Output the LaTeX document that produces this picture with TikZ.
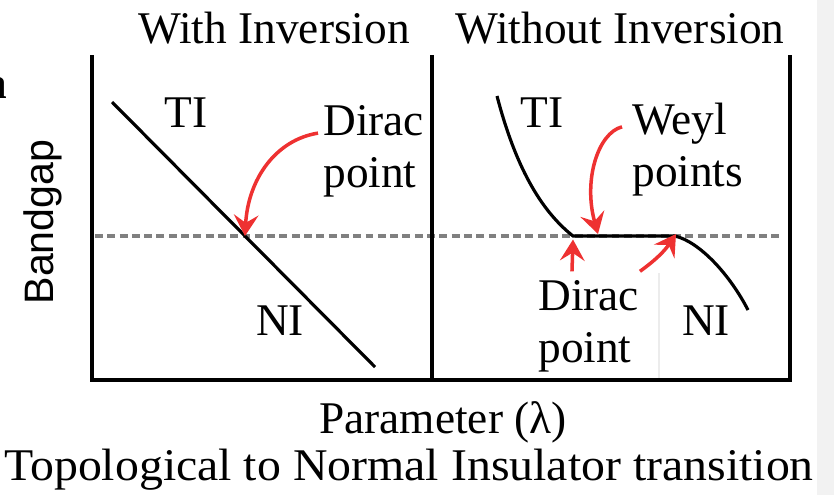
\documentclass[tikz,border=0pt]{standalone}
\usepackage{fontspec}
\setmainfont{Liberation Serif}
\setsansfont{Liberation Sans}
\usetikzlibrary{arrows.meta,positioning,shadows}
\definecolor{arrowred}{HTML}{EE3131}
\definecolor{gapgray}{HTML}{808080}

\begin{document}
\begin{tikzpicture}[
    x=0.02cm, y=-0.02cm,
    lbl/.style={inner sep=0pt, font=\fontsize{25.8}{29.5}\selectfont},
    panellbl/.style={inner sep=0pt, font=\bfseries\fontsize{25.8}{29.5}\selectfont},
    axislbl/.style={inner sep=0pt, font=\sffamily\fontsize{23.4}{28}\selectfont},
    axis/.style={line width=2.3pt},
    band/.style={line width=1.8pt},
    gapline/.style={line width=2pt, draw=gapgray, dash pattern=on 4.5pt off 2.5pt},
    redarrow/.style={-{Stealth[length=12pt, width=14pt, inset=4.5pt]}, line width=2pt, draw=arrowred},
    whitebox/.style={rectangle, fill=white, inner sep=0pt, minimum width=4.52cm, minimum height=2.16cm, drop shadow={shadow xshift=1pt, shadow yshift=-1pt, opacity=0.15}}
  ]
    \useasboundingbox (0,0) rectangle (834,495);
    \fill[black!5] (817,0) rectangle (834,495);
    % titles and axis labels
    \node[panellbl, anchor=base east] (panel) at (8,98) {a};
    \node[lbl, anchor=base] (titleL) at (274,43) {With Inversion};
    \node[lbl, anchor=base] (titleR) at (620,43) {Without Inversion};
    \node[axislbl, rotate=90] (ylabel) at (43,222) {Bandgap};
    \node[lbl, anchor=base] (param) at (443,433) {Parameter (λ)};
    \node[lbl, anchor=base] (caption) at (409,480) {\scalebox{1.055}[1]{Topological to Normal Insulator transition}};
    % special points
    \coordinate (diracpt) at (245,236);
    \coordinate (weylA) at (573,236);
    \coordinate (weylB) at (675,236);
    \coordinate (weylM) at (598,234);
    % zero gap line and bands
    \draw[gapline] (95,236) -- (783,236);
    \draw[band] (112,102) -- (375,367);
    \draw[band] (497,96) .. controls (515,165) and (540,210) .. (weylA) -- (weylB) .. controls (700,242) and (730,275) .. (748,310);
    % labels
    \node[lbl, anchor=base] (tiL) at (186,127) {TI};
    \node[lbl, anchor=base] (niL) at (280,335) {NI};
    \node[lbl, anchor=base] (tiR) at (542,127) {TI};
    \node[lbl, anchor=base] (niR) at (706,335) {NI};
    \node[lbl, align=left, anchor=north west] (diracL) at (323,105) {Dirac\\point};
    \node[lbl, align=left, anchor=north west] (weyl) at (632,103) {Weyl\\points};
    \draw[redarrow] ([shift={(-5,-18)}]diracL.west) .. controls (275,140) and (248,180) .. (diracpt);
    \draw[redarrow] ([shift={(-10,-23)}]weyl.west) .. controls (598,133) and (583,180) .. (weylM);
    % dirac box
    \node[whitebox, anchor=south west] (wbox) at (432,380) {};
    \node[lbl, align=left, anchor=north west] (diracR) at (538,280) {Dirac\\point};
    \draw[redarrow] ([xshift=2.8cm]wbox.north west) -- ([yshift=-2pt]weylA);
    \draw[redarrow] ([xshift=4.16cm]wbox.north west) to[bend right=10] ([shift={(1,-2)}]weylB);
    % axes
    \draw[axis] (92,55) -- (92,380) -- (790,380) -- (790,55);
    \draw[axis] (432,55) -- (432,380);
\end{tikzpicture}
\end{document}
